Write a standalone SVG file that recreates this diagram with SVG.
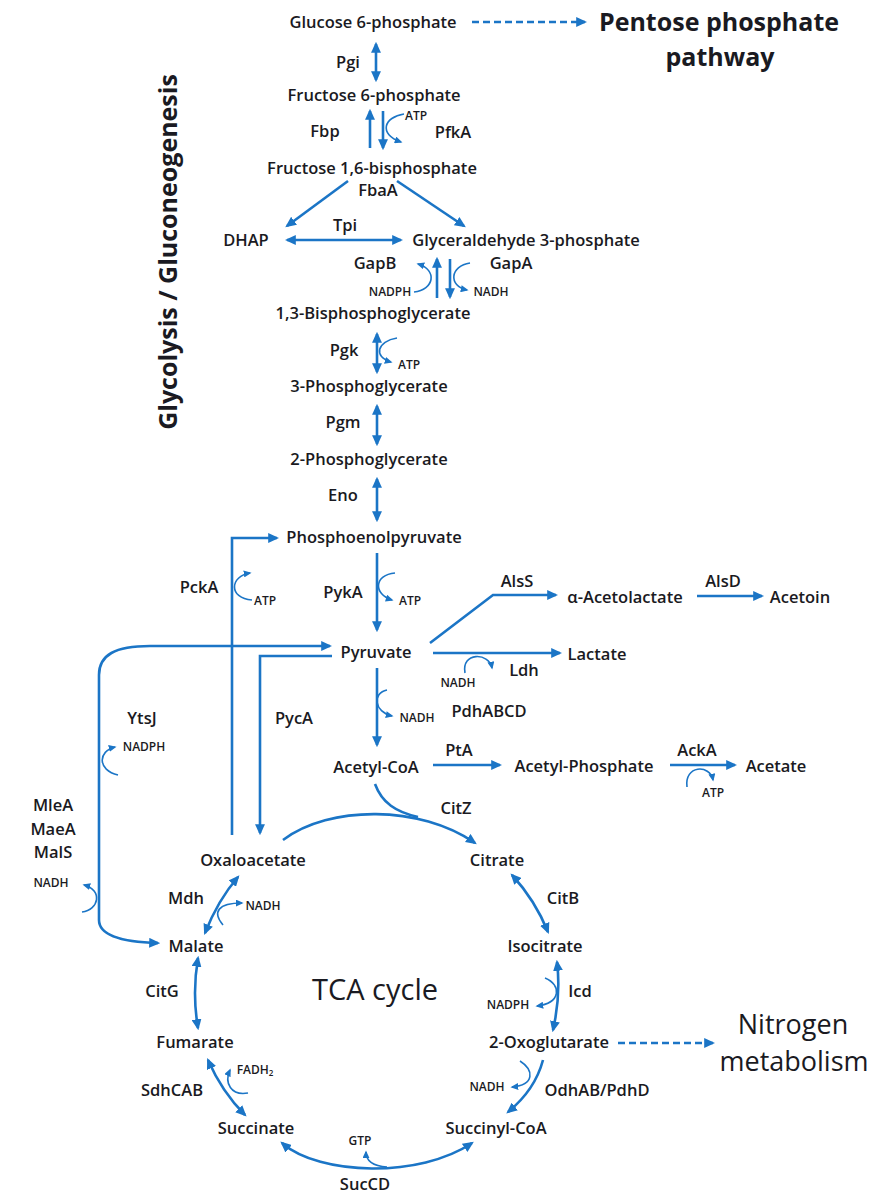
<svg xmlns="http://www.w3.org/2000/svg" width="872" height="1195" viewBox="0 0 872 1195">
<defs>
<style>
text{font-family:"Open Sans","Liberation Sans",sans-serif;fill:#1a1a22;text-anchor:middle}
.m{font-size:16.5px;font-weight:600}
.e{font-size:16.5px;font-weight:600}
.c{font-size:12px;font-weight:600}
.t{font-size:25px;font-weight:700}
.r{font-size:27px;font-weight:400}
.ln{fill:none;stroke:#1b75c6;stroke-width:2.6}
.d{stroke-dasharray:7 4}
.b{marker-start:url(#ah);marker-end:url(#ah)}
.a{marker-end:url(#ah)}
.cf{fill:none;stroke:#1b75c6;stroke-width:1.6;marker-end:url(#sh)}
</style>
<marker id="ah" viewBox="0 0 10 9" refX="8" refY="4.5" markerWidth="11" markerHeight="10" markerUnits="userSpaceOnUse" orient="auto-start-reverse"><path d="M0,0 L10,4.5 L0,9 z" fill="#1b75c6"/></marker>
<marker id="sh" viewBox="0 0 10 9" refX="8" refY="4.5" markerWidth="8" markerHeight="7" markerUnits="userSpaceOnUse" orient="auto"><path d="M0,0 L10,4.5 L0,9 z" fill="#1b75c6"/></marker>
</defs>

<g id="connectors">
<path class="ln d a" d="M472,22 L585,22"/>
<path class="ln b" d="M376,44 L376,80"/>
<path class="ln a" d="M370,148 L370,111"/>
<path class="ln a" d="M383,111 L383,148"/>
<path class="cf" d="M404,114 C384,117 378,134 401,142"/>
<path class="ln a" d="M348,181 L287,226"/>
<path class="ln a" d="M397,181 L464,226"/>
<path class="ln b" d="M287,240 L401,240"/>
<path class="ln a" d="M437,298 L437,259"/>
<path class="ln a" d="M450,259 L450,297"/>
<path class="cf" d="M414,292 C434,290 438,270 418,264"/>
<path class="cf" d="M470,263 C450,266 448,286 467,290"/>
<path class="ln b" d="M377,334 L377,372"/>
<path class="cf" d="M397,338 C377,341 373,357 391,362"/>
<path class="ln b" d="M377,406 L377,444"/>
<path class="ln b" d="M377,479 L377,520"/>
<path class="ln a" d="M232,835 L232,538 L277,538"/>
<path class="cf" d="M252,600 C228,598 230,576 250,573"/>
<path class="ln a" d="M377,553 L377,630"/>
<path class="cf" d="M395,573 C374,575 373,594 392,600"/>
<path class="ln b" d="M330,646 L150,646 C115,646 99,655 99,675 L99,920 C99,935 120,942 158,943"/>
<path class="ln a" d="M332,656 L260,656 L260,833"/>
<path class="cf" d="M118,775 C97,770 98,751 115,747"/>
<path class="cf" d="M82,912 C99,910 103,890 84,885"/>
<path class="ln a" d="M377,668 L377,745"/>
<path class="cf" d="M387,690 C372,693 374,712 392,716"/>
<path class="ln a" d="M430,643 L493,595 L556,595"/>
<path class="ln a" d="M697,596 L762,596"/>
<path class="ln a" d="M433,653 L560,653"/>
<path class="cf" d="M465,673 C461,652 489,652 492,668"/>
<path class="ln a" d="M433,765 L500,765"/>
<path class="ln a" d="M670,765 L735,765"/>
<path class="cf" d="M687,787 C684,765 710,764 713,780"/>
<path class="ln" d="M375,784 C382,803 396,812 418,817"/>
<path class="ln a" d="M283,840 C330,805 420,805 475,843"/>
<path class="ln b" d="M512,875 Q535,900 548,932"/>
<path class="ln b" d="M557,962 Q561,995 553,1030"/>
<path class="cf" d="M545,978 C562,985 561,1003 537,1006"/>
<path class="ln d a" d="M618,1043 L713,1043"/>
<path class="ln a" d="M543,1060 Q535,1090 508,1112"/>
<path class="cf" d="M520,1061 C534,1070 535,1085 512,1087"/>
<path class="ln b" d="M282,1143 C320,1176 420,1178 472,1143"/>
<path class="cf" d="M387,1167 C372,1166 366,1161 366,1152"/>
<path class="ln b" d="M205,933 Q218,900 238,877"/>
<path class="cf" d="M223,925 C212,912 218,903 242,903"/>
<path class="ln b" d="M198,958 Q192,993 198,1028"/>
<path class="ln b" d="M208,1060 Q222,1092 245,1115"/>
<path class="cf" d="M248,1093 C231,1096 224,1083 230,1070"/>
</g>

<g id="n-glc6p"><text class="m" x="373" y="28">Glucose 6-phosphate</text></g>
<g id="n-ppp"><text class="t" x="719" y="31">Pentose phosphate</text><text class="t" x="720" y="66">pathway</text></g>
<g id="n-f6p"><text class="m" x="374" y="101">Fructose 6-phosphate</text></g>
<g id="n-fbp"><text class="m" x="372" y="174">Fructose 1,6-bisphosphate</text></g>
<g id="n-dhap"><text class="m" x="246" y="246">DHAP</text></g>
<g id="n-gap"><text class="m" x="526" y="246">Glyceraldehyde 3-phosphate</text></g>
<g id="n-bpg"><text class="m" x="373" y="319">1,3-Bisphosphoglycerate</text></g>
<g id="n-3pg"><text class="m" x="369" y="392">3-Phosphoglycerate</text></g>
<g id="n-2pg"><text class="m" x="369" y="465">2-Phosphoglycerate</text></g>
<g id="n-pep"><text class="m" x="374" y="543">Phosphoenolpyruvate</text></g>
<g id="n-pyr"><text class="m" x="376" y="658">Pyruvate</text></g>
<g id="n-acl"><text class="m" x="625" y="603">α-Acetolactate</text></g>
<g id="n-acetoin"><text class="m" x="800" y="603">Acetoin</text></g>
<g id="n-lac"><text class="m" x="597" y="660">Lactate</text></g>
<g id="n-accoa"><text class="m" x="376" y="773">Acetyl-CoA</text></g>
<g id="n-acp"><text class="m" x="584" y="772">Acetyl-Phosphate</text></g>
<g id="n-ace"><text class="m" x="776" y="772">Acetate</text></g>
<g id="n-oaa"><text class="m" x="253" y="866">Oxaloacetate</text></g>
<g id="n-cit"><text class="m" x="497" y="866">Citrate</text></g>
<g id="n-mal"><text class="m" x="196" y="952">Malate</text></g>
<g id="n-icit"><text class="m" x="545" y="952">Isocitrate</text></g>
<g id="n-fum"><text class="m" x="195" y="1048">Fumarate</text></g>
<g id="n-akg"><text class="m" x="549" y="1048">2-Oxoglutarate</text></g>
<g id="n-nit"><text class="r" x="793" y="1034">Nitrogen</text><text class="r" x="794" y="1071">metabolism</text></g>
<g id="n-suc"><text class="m" x="256" y="1134">Succinate</text></g>
<g id="n-succoa"><text class="m" x="496" y="1134">Succinyl-CoA</text></g>
<g id="n-tca"><text x="375" y="1000" style="font-size:29px;font-weight:400">TCA cycle</text></g>
<g id="n-glyc"><text class="t" transform="translate(177,252) rotate(-90)" x="0" y="0">Glycolysis / Gluconeogenesis</text></g>

<g id="enzymes">
<text class="e" x="348" y="68">Pgi</text>
<text class="e" x="325" y="137">Fbp</text>
<text class="e" x="453" y="138">PfkA</text>
<text class="e" x="378" y="196">FbaA</text>
<text class="e" x="345" y="231">Tpi</text>
<text class="e" x="375" y="269">GapB</text>
<text class="e" x="511" y="269">GapA</text>
<text class="e" x="344" y="356">Pgk</text>
<text class="e" x="343" y="428">Pgm</text>
<text class="e" x="343" y="501">Eno</text>
<text class="e" x="199" y="593">PckA</text>
<text class="e" x="343" y="598">PykA</text>
<text class="e" x="517" y="587">AlsS</text>
<text class="e" x="723" y="587">AlsD</text>
<text class="e" x="524" y="676">Ldh</text>
<text class="e" x="489" y="717">PdhABCD</text>
<text class="e" x="142" y="724">YtsJ</text>
<text class="e" x="294" y="724">PycA</text>
<text class="e" x="459" y="756">PtA</text>
<text class="e" x="697" y="756">AckA</text>
<text class="e" x="456" y="814">CitZ</text>
<text class="e" x="53" y="811">MleA</text>
<text class="e" x="53" y="835">MaeA</text>
<text class="e" x="53" y="858">MalS</text>
<text class="e" x="186" y="904">Mdh</text>
<text class="e" x="563" y="904">CitB</text>
<text class="e" x="162" y="997">CitG</text>
<text class="e" x="580" y="997">Icd</text>
<text class="e" x="172" y="1096">SdhCAB</text>
<text class="e" x="597" y="1096">OdhAB/PdhD</text>
<text class="e" x="365" y="1190">SucCD</text>
</g>

<g id="cofactors">
<text class="c" x="416" y="120">ATP</text>
<text class="c" x="390" y="296">NADPH</text>
<text class="c" x="491" y="296">NADH</text>
<text class="c" x="409" y="369">ATP</text>
<text class="c" x="265" y="605">ATP</text>
<text class="c" x="410" y="605">ATP</text>
<text class="c" x="458" y="687">NADH</text>
<text class="c" x="417" y="722">NADH</text>
<text class="c" x="144" y="751">NADPH</text>
<text class="c" x="713" y="797">ATP</text>
<text class="c" x="51" y="887">NADH</text>
<text class="c" x="263" y="910">NADH</text>
<text class="c" x="508" y="1009">NADPH</text>
<text class="c" x="487" y="1091">NADH</text>
<text class="c" x="255" y="1074">FADH<tspan font-size="8" dy="2">2</tspan></text>
<text class="c" x="360" y="1145">GTP</text>
</g>
</svg>
